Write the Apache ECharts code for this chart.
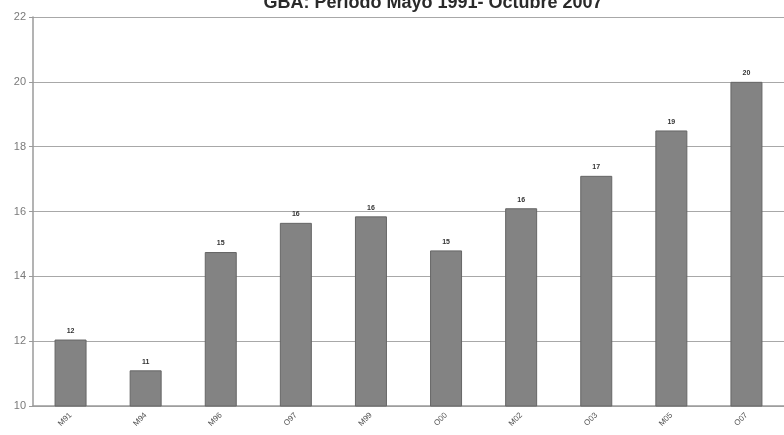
<!DOCTYPE html>
<html>
<head>
<meta charset="utf-8">
<script src="https://cdn.jsdelivr.net/npm/echarts@6/dist/echarts.min.js"></script>
<style>
  html, body { margin: 0; padding: 0; background: #ffffff; }
  #chart { width: 784px; height: 435px; }
</style>
</head>
<body>
<div id="chart"></div>
<script>
// Period labels (Mayo / Octubre onda)
const periods = ['M91', 'M94', 'M96', 'O97', 'M99', 'O00', 'M02', 'O03', 'M05', 'O07'];
// Indicator values per period
const values = [12.05, 11.1, 14.75, 15.65, 15.85, 14.8, 16.1, 17.1, 18.5, 20.0];
// Value axis ticks
const yTicks = [10, 12, 14, 16, 18, 20, 22];

const chart = echarts.init(document.getElementById('chart'));
chart.setOption({
  animation: false,
  backgroundColor: '#ffffff',
  title: {
    text: 'GBA: Periodo Mayo 1991- Octubre 2007',
    left: 428,
    textAlign: 'center',
    top: -11,
    textStyle: { fontFamily: 'Liberation Sans', fontSize: 18, fontWeight: 'bold', color: '#2a2a2a' }
  },
  grid: { left: 33, right: -4, top: 17, bottom: 29, containLabel: false },
  xAxis: {
    type: 'category',
    data: periods,
    axisLine: { lineStyle: { color: '#9a9a9a', width: 1.5 } },
    axisTick: { show: false },
    axisLabel: {
      rotate: 45,
      fontSize: 8,
      color: '#555',
      fontFamily: 'Liberation Sans',
      margin: 8
    },
    splitLine: { show: false }
  },
  yAxis: {
    type: 'value',
    min: yTicks[0],
    max: yTicks[yTicks.length - 1],
    interval: 2,
    axisLine: { show: true, lineStyle: { color: '#9a9a9a', width: 1.5 } },
    axisTick: { show: true, length: 4, inside: false, lineStyle: { color: '#9a9a9a' } },
    axisLabel: { fontSize: 11, color: '#7a7a7a', fontFamily: 'Liberation Sans', margin: 7 },
    splitLine: { show: true, lineStyle: { color: '#a8a8a8', width: 1.2 } }
  },
  series: [{
    type: 'bar',
    data: values,
    barWidth: 32,
    itemStyle: { color: '#838383', borderColor: '#666666', borderWidth: 1 },
    label: {
      show: true,
      position: 'top',
      distance: 5,
      fontSize: 7,
      fontWeight: 'bold',
      color: '#333',
      fontFamily: 'Liberation Sans',
      formatter: p => Math.round(p.value)
    }
  }]
});
</script>
</body>
</html>
